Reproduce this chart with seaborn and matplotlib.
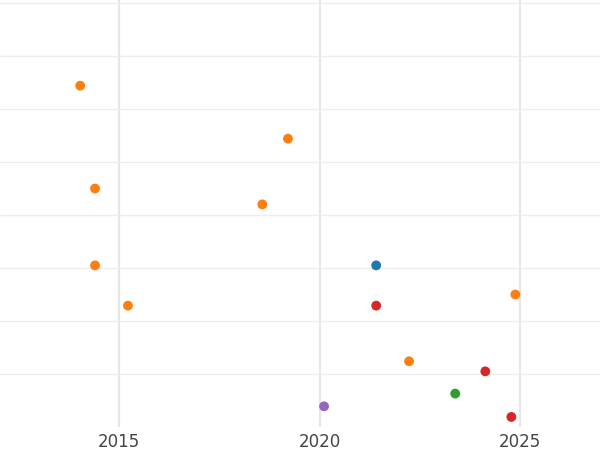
import pandas as pd
import matplotlib
matplotlib.use("Agg")
import matplotlib.pyplot as plt
import seaborn as sns

# Data (x = year, y = unlabeled value)
years = [2014.03, 2019.21, 2014.40, 2018.57, 2014.40, 2021.41, 2015.22,
         2021.41, 2024.88, 2022.23, 2024.13, 2023.38, 2020.11, 2024.78]
values = [6.44, 5.44, 4.50, 4.20, 3.05, 3.05, 2.29,
          2.29, 2.50, 1.24, 1.05, 0.63, 0.39, 0.19]
groups = ["B", "B", "B", "B", "B", "A", "B",
          "D", "B", "B", "D", "C", "E", "D"]
group_order = ["A", "B", "C", "D", "E"]
group_colors = ["#1f77b4", "#ff7f0e", "#2ca02c", "#d62728", "#9467bd"]
x_ticks = [2015, 2020, 2025]

df = pd.DataFrame({"year": years, "value": values, "group": groups})

sns.set_style("white")
plt.rcParams['font.family'] = ['DejaVu Sans']

fig = plt.figure(figsize=(6, 4.5), dpi=100)
ax = fig.add_axes([0, 23 / 450, 1, 427 / 450])

sns.scatterplot(data=df, x="year", y="value", hue="group", hue_order=group_order,
                palette=group_colors, s=50, linewidth=0, legend=False, ax=ax, zorder=3)

ax.set_xlim(2012.03, 2026.99)
ax.set_ylim(0, 8.057)
ax.set_xticks(x_ticks)
ax.set_xticklabels([str(t) for t in x_ticks])
ax.set_yticks(range(1, 9))
ax.set_yticklabels([])
ax.tick_params(axis="x", length=0, labelsize=12, labelcolor="#444444", pad=4)
ax.tick_params(axis="y", length=0)
ax.grid(axis="x", color="#e6e6e6", linewidth=1.6)
ax.grid(axis="y", color="#ededed", linewidth=1.0)
ax.set_axisbelow(True)
for s in ax.spines.values():
    s.set_visible(False)
ax.set_xlabel("")
ax.set_ylabel("")

fig.savefig("out.png", dpi=100)
